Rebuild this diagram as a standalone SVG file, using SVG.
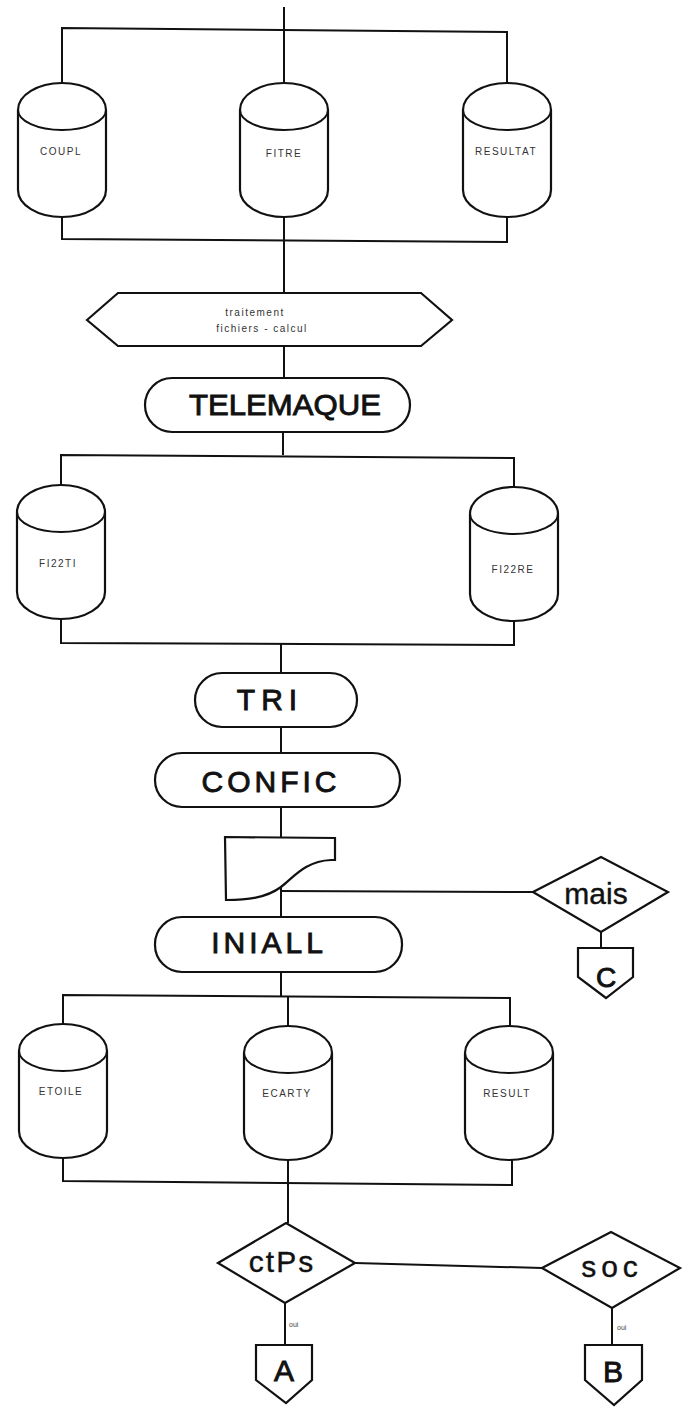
<svg xmlns="http://www.w3.org/2000/svg" xmlns:xlink="http://www.w3.org/1999/xlink" width="686" height="1407" viewBox="0 0 686 1407">
  <style>
    .ln { fill: none; stroke: #111; stroke-width: 2; stroke-linejoin: miter; }
    .shape { fill: #fff; stroke: #111; stroke-width: 2.2; }
    .big { font-family: "Liberation Sans", Arial, sans-serif; font-weight: normal; font-size: 30px; fill: #111; stroke: #111; stroke-width: 0.9; text-anchor: middle; }
    .reg { font-family: "Liberation Sans", Arial, sans-serif; font-weight: normal; font-size: 30px; fill: #111; stroke: #111; stroke-width: 0.4; text-anchor: middle; }
    .small { font-family: "Liberation Sans", Arial, sans-serif; font-size: 10px; letter-spacing: 1.5px; fill: #333; text-anchor: middle; }
    .tiny { font-family: "Liberation Sans", Arial, sans-serif; font-size: 7px; fill: #444; }
  </style>
  <defs>
    <!-- disk file symbol: 88 wide, 134 tall -->
    <g id="cyl">
      <path class="shape" d="M0,27 A44,27 0 0 1 88,27 L88,107 A44,27 0 0 1 0,107 Z"/>
      <path class="ln" d="M0,27 A44,20 0 0 0 88,27"/>
    </g>
  </defs>
  <rect width="686" height="1407" fill="#fff"/>

  <!-- connectors -->
  <g id="connectors">
    <!-- top block -->
    <path class="ln" d="M284,7 V83"/>
    <path class="ln" d="M62,83 V28 L507,32 V83"/>
    <path class="ln" d="M62,217 V239 L507,242 V217"/>
    <path class="ln" d="M284,217 V293"/>
    <path class="ln" d="M284,346 V378"/>
    <!-- TELEMAQUE outputs -->
    <path class="ln" d="M283,432 V455"/>
    <path class="ln" d="M61,485 V455 L514,458 V487"/>
    <path class="ln" d="M61,619 V643 L514,645 V621"/>
    <path class="ln" d="M281,643 V673"/>
    <path class="ln" d="M281,727 V753"/>
    <path class="ln" d="M281,807 V837"/>
    <path class="ln" d="M281,886 V917"/>
    <path class="ln" d="M281,891 L533,892"/>
    <path class="ln" d="M601,932 V948"/>
    <path class="ln" d="M281,972 V996"/>
    <!-- INIALL outputs -->
    <path class="ln" d="M63,1024 V995 L510,998 V1026"/>
    <path class="ln" d="M63,1158 V1181 L512,1185 V1160"/>
    <path class="ln" d="M288,1026 V996"/>
    <path class="ln" d="M288,1160 V1223"/>
    <path class="ln" d="M355,1263 L542,1268"/>
    <path class="ln" d="M285,1303 V1345"/>
    <path class="ln" d="M612,1308 V1345"/>
  </g>

  <g id="coupl">
    <use xlink:href="#cyl" href="#cyl" transform="translate(18,83)"/>
    <text class="small" x="61" y="155">COUPL</text>
  </g>
  <g id="fitre">
    <use xlink:href="#cyl" href="#cyl" transform="translate(240,83)"/>
    <text class="small" x="284" y="157">FITRE</text>
  </g>
  <g id="resultat">
    <use xlink:href="#cyl" href="#cyl" transform="translate(463,83)"/>
    <text class="small" x="506" y="155" letter-spacing="1">RESULTAT</text>
  </g>

  <g id="traitement">
    <polygon class="shape" points="87,320 118,293 421,293 452,320 421,346 118,346"/>
    <text class="small" x="255" y="316">traitement</text>
    <text class="small" x="262" y="332">fichiers - calcul</text>
  </g>

  <g id="telemaque">
    <rect class="shape" x="145" y="378" width="265" height="54" rx="27"/>
    <text class="big" x="285" y="415" textLength="192" lengthAdjust="spacingAndGlyphs">TELEMAQUE</text>
  </g>

  <g id="f122ti">
    <use xlink:href="#cyl" href="#cyl" transform="translate(17,485)"/>
    <text class="small" x="58" y="567" letter-spacing="0.5">FI22TI</text>
  </g>
  <g id="f122re">
    <use xlink:href="#cyl" href="#cyl" transform="translate(470,487)"/>
    <text class="small" x="513" y="573">FI22RE</text>
  </g>

  <g id="tri">
    <rect class="shape" x="195" y="673" width="162" height="54" rx="27"/>
    <text class="big" x="270" y="710" letter-spacing="6">TRI</text>
  </g>

  <g id="confic">
    <rect class="shape" x="155" y="753" width="245" height="54" rx="27"/>
    <text class="big" x="271" y="792" letter-spacing="4">CONFIC</text>
  </g>

  <g id="card">
    <path class="shape" d="M225,837 L335,838 V860 H331 C305,861 293,878 281,887 C266,898 247,900 226,900 Z"/>
  </g>

  <g id="mais">
    <polygon class="shape" points="533,892 601,857 668,892 601,932"/>
    <text class="reg" x="596" y="904" font-size="32">mais</text>
  </g>

  <g id="conn-c">
    <polygon class="shape" points="578,948 633,948 633,977 606,998 578,977"/>
    <text class="big" x="606" y="987" style="font-size:28px">C</text>
  </g>

  <g id="iniall">
    <rect class="shape" x="155" y="917" width="247" height="55" rx="27"/>
    <text class="big" x="269" y="953" letter-spacing="4">INIALL</text>
  </g>

  <g id="etoile">
    <use xlink:href="#cyl" href="#cyl" transform="translate(19,1024)"/>
    <text class="small" x="61" y="1095">ETOILE</text>
  </g>
  <g id="ecarty">
    <use xlink:href="#cyl" href="#cyl" transform="translate(244,1026)"/>
    <text class="small" x="287" y="1097">ECARTY</text>
  </g>
  <g id="result">
    <use xlink:href="#cyl" href="#cyl" transform="translate(465,1026)"/>
    <text class="small" x="507" y="1097" letter-spacing="2">RESULT</text>
  </g>

  <g id="ctps">
    <polygon class="shape" points="218,1263 286,1223 355,1263 285,1303"/>
    <text class="reg" x="282" y="1272" letter-spacing="2">ctPs</text>
    <text class="tiny" x="289" y="1327">oui</text>
  </g>

  <g id="soc">
    <polygon class="shape" points="542,1268 611,1232 680,1268 612,1308"/>
    <text class="reg" x="612" y="1277" letter-spacing="5">soc</text>
    <text class="tiny" x="617" y="1330">oui</text>
  </g>

  <g id="conn-a">
    <polygon class="shape" points="256,1345 312,1345 312,1380 286,1403 256,1380"/>
    <text class="big" x="284" y="1381">A</text>
  </g>

  <g id="conn-b">
    <polygon class="shape" points="585,1345 642,1345 642,1380 614,1405 585,1380"/>
    <text class="big" x="613" y="1382">B</text>
  </g>
</svg>
